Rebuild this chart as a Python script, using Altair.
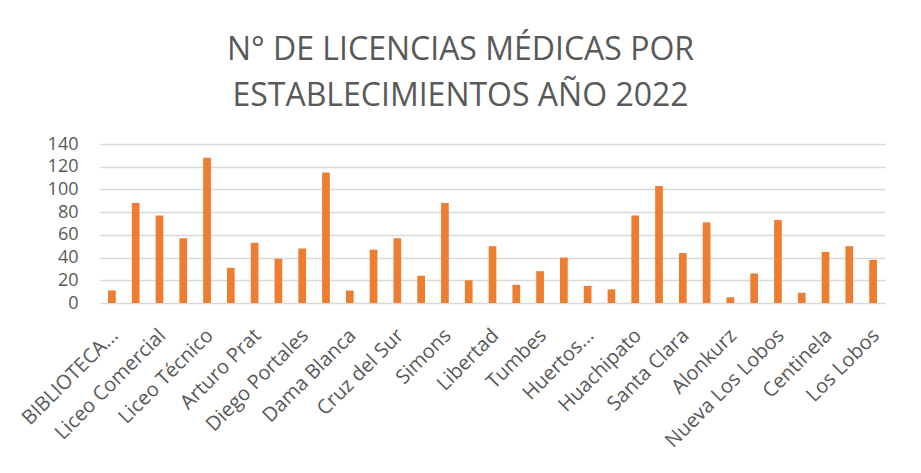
import json
import altair as alt
import pandas as pd

# Etiquetas visibles del eje (Excel muestra una de cada dos)
etiquetas = [
    "BIBLIOTECA...", "Liceo Comercial", "Liceo Técnico", "Arturo Prat",
    "Diego Portales", "Dama Blanca", "Cruz del Sur", "Simons", "Libertad",
    "Tumbes", "Huertos...", "Huachipato", "Santa Clara", "Alonkurz",
    "Nueva Los Lobos", "Centinela", "Los Lobos",
]

# N° de licencias médicas por establecimiento (33 barras)
licencias = [
    11, 88, 77, 57, 128, 31, 53, 39, 48, 115, 11, 47, 57, 24, 88, 20, 50,
    16, 28, 40, 15, 12, 77, 103, 44, 71, 5, 26, 73, 9, 45, 50, 38,
]

titulo = ["N° DE LICENCIAS MÉDICAS POR", "ESTABLECIMIENTOS AÑO 2022"]
y_ticks = [0, 20, 40, 60, 80, 100, 120, 140]

df = pd.DataFrame({"pos": list(range(len(licencias))), "licencias": licencias})

label_expr = (
    "datum.value % 2 == 0 ? "
    + json.dumps(etiquetas, ensure_ascii=False)
    + "[datum.value / 2] : ''"
)

GRAY = "#595959"
FONT = "Open Sans"

chart = (
    alt.Chart(df)
    .mark_bar(color="#ED7D31")
    .encode(
        x=alt.X(
            "pos:O",
            title=None,
            scale=alt.Scale(paddingInner=0.676, paddingOuter=0.338),
            axis=alt.Axis(
                labelExpr=label_expr,
                labelAngle=-45,
                labelAlign="right",
                labelBaseline="top",
                labelPadding=22,
                labelOffset=-4,
                labelFontSize=20,
                labelFont=FONT,
                labelColor=GRAY,
                ticks=False,
                domain=False,
                grid=False,
                labelOverlap=False,
            ),
        ),
        y=alt.Y(
            "licencias:Q",
            title=None,
            scale=alt.Scale(domain=[0, 140], nice=False),
            axis=alt.Axis(
                values=y_ticks,
                labelFontSize=18,
                labelFont=FONT,
                labelColor=GRAY,
                labelPadding=22,
                ticks=False,
                domain=False,
                grid=True,
                gridColor="#d9d9d9",
                gridWidth=1.6,
            ),
        ),
    )
    .properties(
        width=785,
        height=159,
        autosize=alt.AutoSizeParams(type="none"),
        padding={"left": 92, "top": 136, "right": 28, "bottom": 160},
        title=alt.TitleParams(
            text=titulo,
            font=FONT,
            fontSize=32,
            fontWeight="normal",
            color=GRAY,
            lineHeight=46,
            anchor="middle",
            dx=-32,
            offset=22,
        ),
    )
    .configure_view(stroke=None)
)

chart.save("out.html", embed_options={"renderer": "svg", "actions": False})
